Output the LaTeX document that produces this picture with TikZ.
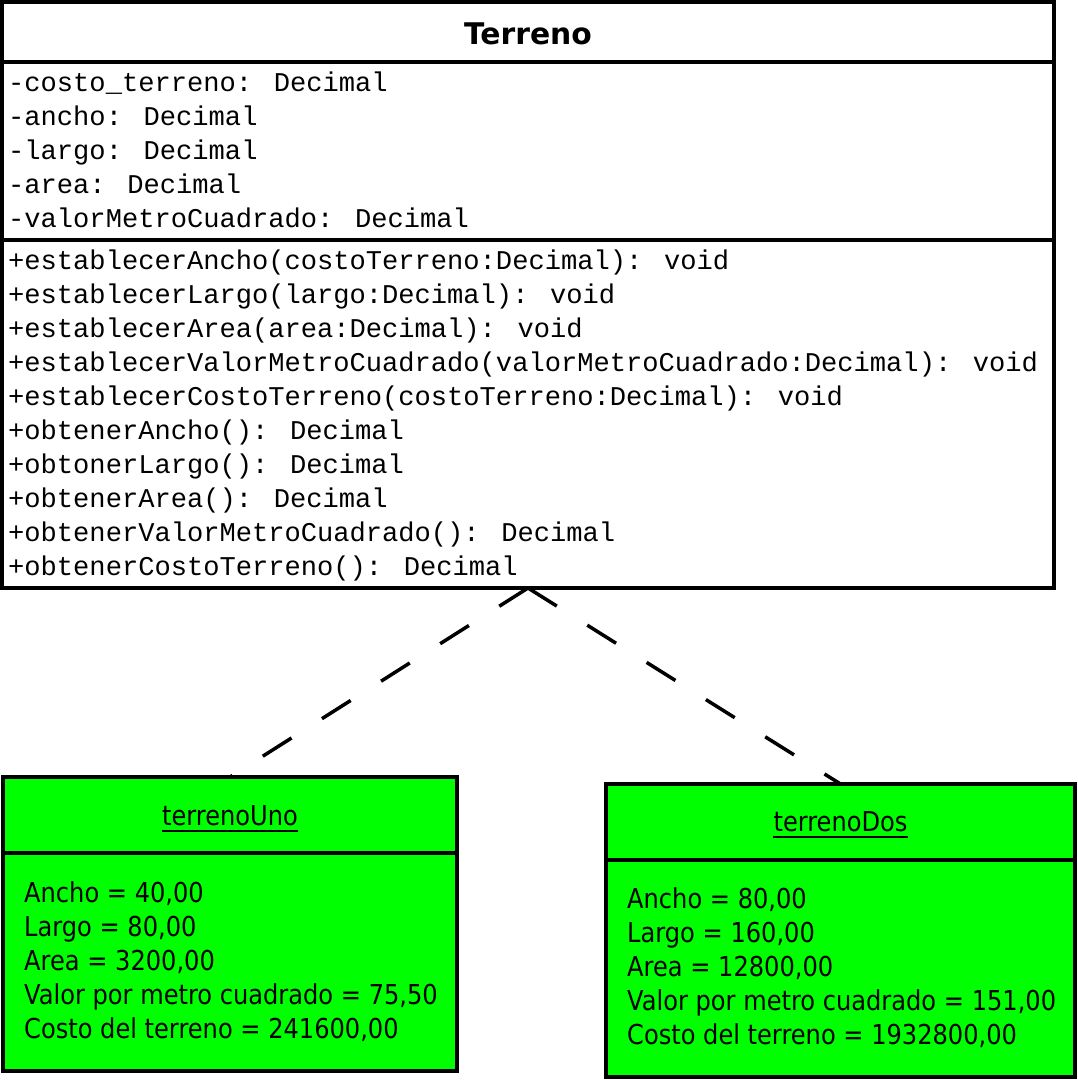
\documentclass[tikz,border=0pt]{standalone}
\usepackage{fontspec}
\newfontfamily\monof{Liberation Mono}
\newfontfamily\sansf[FakeStretch=0.88]{DejaVu Sans}
\newfontfamily\titlef{DejaVu Sans}
\definecolor{objgreen}{HTML}{00FF00}
\tikzset{
  boxline/.style={draw=black, line width=3.3pt},
  classbox/.style={boxline, fill=white, inner sep=0pt, outer sep=0pt},
  objbox/.style={boxline, fill=objgreen, inner sep=0pt, outer sep=0pt},
  divider/.style={line width=3.3pt},
  monotext/.style={anchor=base west, inner sep=0pt, font=\monof\fontsize{27.1}{34}\selectfont},
  sanstext/.style={anchor=base west, inner sep=0pt, font=\sansf\fontsize{27.4}{34}\selectfont},
  objtitle/.style={anchor=base, inner sep=0pt, font=\sansf\fontsize{27.4}{34}\selectfont},
  classtitle/.style={anchor=base, inner sep=0pt, font=\titlef\bfseries\fontsize{29.8}{34}\selectfont},
  ulinestyle/.style={line width=2pt},
  dep/.style={line width=3.5pt, dash pattern=on 34pt off 36pt}
}
\begin{document}
\begin{tikzpicture}[x=1pt,y=-1pt]
\useasboundingbox[fill=white] (0,0) rectangle (1078,1080);

% class box
\node[classbox, minimum width=1052pt, minimum height=586pt] (terreno) at (528,295) {};
\draw[divider] (2,62) -- (1054,62);
\draw[divider] (2,240) -- (1054,240);
\node[classtitle] (title) at (528,44) {Terreno};

\foreach \t [count=\i] in {
  {-costo\_terreno: Decimal},
  {-ancho: Decimal},
  {-largo: Decimal},
  {-area: Decimal},
  {-valorMetroCuadrado: Decimal}}
  \node[monotext] (attr\i) at (8,{91+34*(\i-1)}) {\t};

\foreach \t [count=\i] in {
  {+establecerAncho(costoTerreno:Decimal): void},
  {+establecerLargo(largo:Decimal): void},
  {+establecerArea(area:Decimal): void},
  {+establecerValorMetroCuadrado(valorMetroCuadrado:Decimal): void},
  {+establecerCostoTerreno(costoTerreno:Decimal): void},
  {+obtenerAncho(): Decimal},
  {+obtonerLargo(): Decimal},
  {+obtenerArea(): Decimal},
  {+obtenerValorMetroCuadrado(): Decimal},
  {+obtenerCostoTerreno(): Decimal}}
  \node[monotext] (meth\i) at (8,{269+34*(\i-1)}) {\t};

% object terrenoUno
\node[objbox, minimum width=454pt, minimum height=294pt] (uno) at (230,924) {};
\draw[divider] (3,853) -- (457,853);
\node[objtitle] (unoname) at (230,825) {terrenoUno};
\draw[ulinestyle] ([yshift=-6pt]unoname.base west) -- ([yshift=-6pt]unoname.base east);
\foreach \t [count=\i] in {
  {Ancho = 40,00},
  {Largo = 80,00},
  {Area = 3200,00},
  {Valor por metro cuadrado = 75,50},
  {Costo del terreno = 241600,00}}
  \node[sanstext] (unoattr\i) at (24,{902+34*(\i-1)}) {\t};

% object terrenoDos
\node[objbox, minimum width=469pt, minimum height=293pt] (dos) at (840.5,930.5) {};
\draw[divider] (606,860) -- (1075,860);
\node[objtitle] (dosname) at (840.5,831) {terrenoDos};
\draw[ulinestyle] ([yshift=-6pt]dosname.base west) -- ([yshift=-6pt]dosname.base east);
\foreach \t [count=\i] in {
  {Ancho = 80,00},
  {Largo = 160,00},
  {Area = 12800,00},
  {Valor por metro cuadrado = 151,00},
  {Costo del terreno = 1932800,00}}
  \node[sanstext] (dosattr\i) at (627,{908+34*(\i-1)}) {\t};

% dependencies
\draw[dep] (terreno.south) -- (uno.north);
\draw[dep] (terreno.south) -- (dos.north);
\end{tikzpicture}
\end{document}
